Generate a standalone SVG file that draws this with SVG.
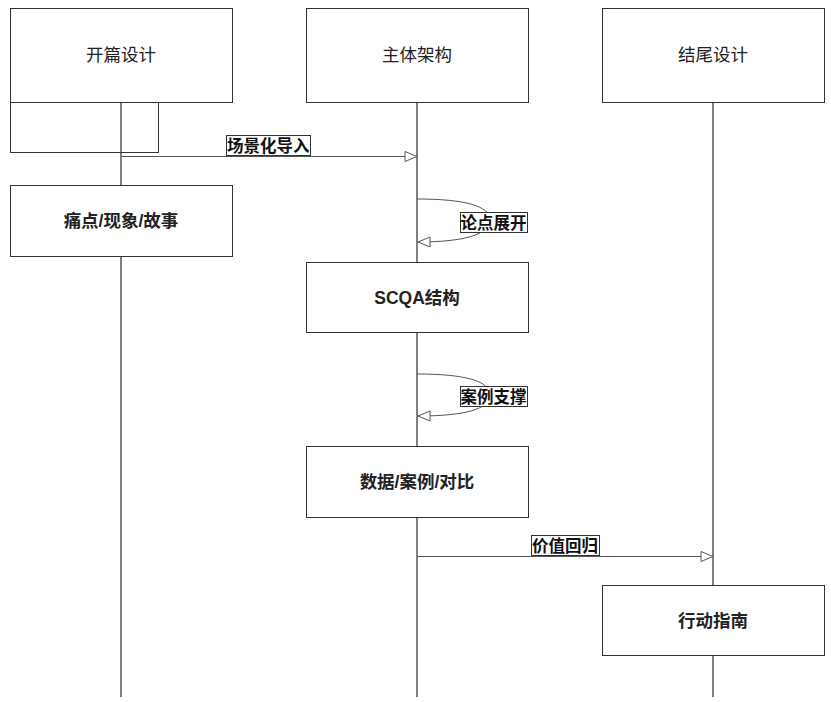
<svg xmlns="http://www.w3.org/2000/svg" width="831" height="702" viewBox="0 0 831 702">
<defs>
<style>
.box{fill:#fff;stroke:#333;stroke-width:1}
.life{stroke:#000;stroke-width:1;fill:none}
.msg{stroke:#555;stroke-width:1;fill:none}
.t{font-family:"Liberation Sans","Noto Sans CJK SC",sans-serif;font-size:17.5px;fill:#222;text-anchor:middle;dominant-baseline:central}
.b{font-weight:bold}
.lbl{fill:#fff;stroke:#333;stroke-width:1}
.lt{font-family:"Liberation Sans","Noto Sans CJK SC",sans-serif;font-size:16.5px;font-weight:bold;fill:#111;dominant-baseline:central}
</style>
<marker id="open" markerWidth="14" markerHeight="12" refX="13" refY="6" orient="auto" markerUnits="userSpaceOnUse">
<path d="M1,1 L13,6 L1,11 Z" fill="#fff" stroke="#555" stroke-width="1"/>
</marker>
</defs>
<rect width="831" height="702" fill="#fff"/>
<g id="lifelines">
<line class="life" x1="121" y1="102" x2="121" y2="697"/>
<line class="life" x1="417" y1="102" x2="417" y2="697"/>
<line class="life" x1="713" y1="102" x2="713" y2="697"/>
</g>
<g id="frame">
<rect x="10.5" y="102.5" width="148" height="50" fill="none" stroke="#333" stroke-width="1"/>
</g>
<g id="node-opening">
<rect class="box" x="10.5" y="8.5" width="222" height="94"/>
<text class="t" x="121" y="55">开篇设计</text>
</g>
<g id="node-body">
<rect class="box" x="306.5" y="8.5" width="222" height="94"/>
<text class="t" x="417" y="55">主体架构</text>
</g>
<g id="node-ending">
<rect class="box" x="602.5" y="8.5" width="222" height="94"/>
<text class="t" x="713" y="55">结尾设计</text>
</g>
<g id="node-pain">
<rect class="box" x="10.5" y="185.5" width="222" height="71"/>
<text class="t b" x="121" y="221">痛点/现象/故事</text>
</g>
<g id="node-scqa">
<rect class="box" x="306.5" y="262.5" width="222" height="70"/>
<text class="t b" x="417" y="298">SCQA结构</text>
</g>
<g id="node-data">
<rect class="box" x="306.5" y="446.5" width="222" height="71"/>
<text class="t b" x="417" y="482">数据/案例/对比</text>
</g>
<g id="node-action">
<rect class="box" x="602.5" y="585.5" width="222" height="70"/>
<text class="t b" x="713" y="621">行动指南</text>
</g>
<g id="connectors">
<line class="msg" x1="121" y1="156.5" x2="417" y2="156.5" marker-end="url(#open)"/>
<rect class="lbl" x="226.5" y="135.5" width="84" height="20"/>
<text class="lt" x="227" y="145.5">场景化导入</text>
<path class="msg" d="M417,199 C465,199 490,206 490,220 C490,234 465,242 418,242" marker-end="url(#open)"/>
<rect class="lbl" x="460.5" y="212.5" width="67" height="20"/>
<text class="lt" x="460.5" y="222.5">论点展开</text>
<path class="msg" d="M417,374 C465,374 490,381 490,395 C490,409 465,416 418,416" marker-end="url(#open)"/>
<rect class="lbl" x="460.5" y="386.5" width="67" height="20"/>
<text class="lt" x="460.5" y="396.5">案例支撑</text>
<line class="msg" x1="417" y1="556.5" x2="713" y2="556.5" marker-end="url(#open)"/>
<rect class="lbl" x="531.5" y="535.5" width="68" height="20"/>
<text class="lt" x="532" y="545.5">价值回归</text>
</g>
</svg>
